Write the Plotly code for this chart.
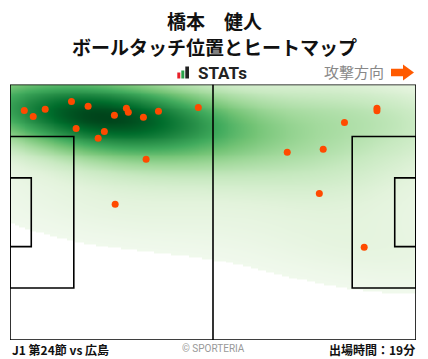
import numpy as np
import plotly.graph_objects as go

W, H = 428, 359
# Pitch dimensions (m)
PITCH_L, PITCH_W = 105, 68

# Ball touch positions (x: 0->105 attacking right, y: 0 bottom -> 68 top)
touch_x = [3.7, 6.0, 9.1, 15.9, 20.2, 27.0, 30.1, 30.6, 34.5, 38.4, 48.7, 17.1, 24.4, 22.8,
           35.2, 27.2, 94.9, 94.9, 86.5, 71.7, 81.0, 80.0, 91.6]
touch_y = [61.1, 59.5, 61.4, 63.5, 62.2, 59.8, 61.7, 60.6, 59.3, 60.9, 61.9, 56.3, 55.5, 53.7,
           48.1, 36.1, 61.7, 61.0, 57.9, 50.0, 50.8, 39.0, 24.7]

title_name = "橋本　健人"
title_sub = "ボールタッチ位置とヒートマップ"
match_label = "J1 第24節 vs 広島"
minutes_label = "出場時間：19分"
copyright_label = "© SPORTERIA"
direction_label = "攻撃方向"

# pixel -> paper helpers
def px(x):
    return x / W

def py(y):
    return 1 - y / H

# Gaussian KDE (scipy-like, Scott's rule, widened)
pts = np.vstack([touch_x, touch_y])
n = pts.shape[1]
factor = n ** (-1.0 / 6) * 1.25
cov = np.cov(pts) * factor ** 2
inv = np.linalg.inv(cov)
gx = np.linspace(0, PITCH_L, 211)
gy = np.linspace(0, PITCH_W, 137)
GX, GY = np.meshgrid(gx, gy)
dens = np.zeros_like(GX)
for i in range(n):
    dx = GX - pts[0, i]
    dy = GY - pts[1, i]
    d2 = inv[0, 0] * dx * dx + 2 * inv[0, 1] * dx * dy + inv[1, 1] * dy * dy
    dens += np.exp(-0.5 * d2)
dens = dens / dens.max()
z = np.where(dens < 0.022, np.nan, dens)

greens = [[0.0, "#f3faf0"], [0.125, "#e3f3dc"], [0.25, "#c7e9c0"], [0.375, "#a1d99b"],
          [0.5, "#74c476"], [0.625, "#41ab5d"], [0.75, "#238b45"], [0.875, "#006d2c"],
          [1.0, "#00441b"]]

fig = go.Figure()
fig.add_trace(go.Heatmap(x=gx, y=gy, z=z, colorscale=greens, zmin=0.0, zmax=1.0,
                         zsmooth="best", showscale=False, hoverinfo="skip"))
fig.add_trace(go.Scatter(x=touch_x, y=touch_y, mode="markers",
                         marker=dict(color="#ff4a00", size=7, line=dict(width=0)),
                         hoverinfo="skip", showlegend=False))

line = dict(color="black", width=1.6)
shapes = []
# outer pitch
shapes.append(dict(type="rect", xref="x", yref="y", x0=0, x1=PITCH_L, y0=0, y1=PITCH_W, line=line))
# halfway line
shapes.append(dict(type="line", xref="x", yref="y", x0=PITCH_L / 2, x1=PITCH_L / 2, y0=0, y1=PITCH_W, line=line))
# penalty areas
pa_w = 40.32
ga_w = 18.32
for x0, x1 in [(0, 16.5), (PITCH_L - 16.5, PITCH_L)]:
    shapes.append(dict(type="rect", xref="x", yref="y", x0=x0, x1=x1,
                       y0=PITCH_W / 2 - pa_w / 2, y1=PITCH_W / 2 + pa_w / 2, line=line))
for x0, x1 in [(0, 5.5), (PITCH_L - 5.5, PITCH_L)]:
    shapes.append(dict(type="rect", xref="x", yref="y", x0=x0, x1=x1,
                       y0=PITCH_W / 2 - ga_w / 2, y1=PITCH_W / 2 + ga_w / 2, line=line))

# STATs icon bars
for (x0, x1, y0, col) in [(177.3, 180.3, 72.5, "#e8202a"), (181.3, 184.3, 70.5, "#2aa24a"), (185.3, 189, 66.5, "#222222")]:
    shapes.append(dict(type="rect", xref="paper", yref="paper", x0=px(x0), x1=px(x1),
                       y0=py(78.5), y1=py(y0), fillcolor=col, line=dict(width=0)))
# Attack arrow
ax0, ax1, axh, ay = 391, 414, 403, 72.5
path = (f"M {px(ax0)} {py(ay-3.8)} L {px(axh)} {py(ay-3.8)} L {px(axh)} {py(ay-8)} "
        f"L {px(ax1)} {py(ay)} L {px(axh)} {py(ay+8)} L {px(axh)} {py(ay+3.8)} "
        f"L {px(ax0)} {py(ay+3.8)} Z")
shapes.append(dict(type="path", xref="paper", yref="paper", path=path,
                   fillcolor="#ff5a00", line=dict(width=0)))

jp = "Noto Sans CJK JP"
annotations = [
    dict(text=f"<b>{title_name}</b>", x=0.5, y=py(20), xref="paper", yref="paper",
         showarrow=False, font=dict(family=jp, size=19, color="#111111"), xanchor="center", yanchor="middle"),
    dict(text=f"<b>{title_sub}</b>", x=0.5, y=py(46.5), xref="paper", yref="paper",
         showarrow=False, font=dict(family=jp, size=19, color="#111111"), xanchor="center", yanchor="middle"),
    dict(text="<b>STATs</b>", x=px(196), y=py(73), xref="paper", yref="paper",
         showarrow=False, font=dict(family="Roboto", size=17, color="#222222"), xanchor="left", yanchor="middle"),
    dict(text=direction_label, x=px(386), y=py(72), xref="paper", yref="paper",
         showarrow=False, font=dict(family=jp, size=15, color="#888888"), xanchor="right", yanchor="middle"),
    dict(text=f"<b>{match_label}</b>", x=px(10), y=py(349), xref="paper", yref="paper",
         showarrow=False, font=dict(family=jp, size=12, color="#111111"), xanchor="left", yanchor="middle"),
    dict(text=copyright_label, x=px(213), y=py(348), xref="paper", yref="paper",
         showarrow=False, font=dict(family="Roboto", size=10, color="#999999"), xanchor="center", yanchor="middle"),
    dict(text=f"<b>{minutes_label}</b>", x=px(417), y=py(349), xref="paper", yref="paper",
         showarrow=False, font=dict(family=jp, size=12, color="#111111"), xanchor="right", yanchor="middle"),
]

fig.update_layout(
    width=W, height=H, margin=dict(l=0, r=0, t=0, b=0),
    paper_bgcolor="white", plot_bgcolor="white",
    xaxis=dict(range=[0, PITCH_L], domain=[px(10), px(416)], visible=False, fixedrange=True),
    yaxis=dict(range=[0, PITCH_W], domain=[py(340), py(84.5)], visible=False, fixedrange=True),
    shapes=shapes, annotations=annotations, showlegend=False,
)

fig.write_html("out.html", config={"displayModeBar": False})
with open("out.html", "r", encoding="utf-8") as f:
    html = f.read()
html = html.replace("<body>", "<body style=\"margin:0;padding:0;overflow:hidden\">", 1)
html = html.replace("<head>", "<head><style>html,body{margin:0;padding:0;}</style>", 1)
with open("out.html", "w", encoding="utf-8") as f:
    f.write(html)
